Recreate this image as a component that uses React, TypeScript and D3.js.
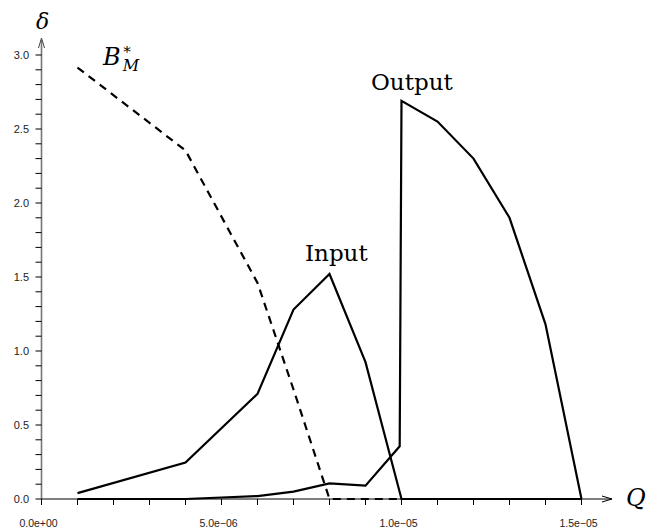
import { useEffect, useRef } from 'react'
import * as d3 from 'd3'

// ─── Data ────────────────────────────────────────────────────────────────────

const inputQ = [1e-6, 4e-6, 6e-6, 7e-6, 8e-6, 9e-6, 1e-5, 1.5e-5]
const inputDelta = [0.04, 0.247, 0.71, 1.28, 1.52, 0.925, 0, 0]

const outputQ = [1e-6, 4e-6, 5e-6, 6e-6, 7e-6, 8e-6, 9e-6, 9.95e-6, 1e-5, 1.1e-5, 1.2e-5, 1.3e-5, 1.4e-5, 1.5e-5]
const outputDelta = [0, 0, 0.01, 0.02, 0.05, 0.105, 0.09, 0.356, 2.69, 2.55, 2.3, 1.9, 1.18, 0]

const bmQ = [1e-6, 4e-6, 6e-6, 7e-6, 8e-6, 1.5e-5]
const bmDelta = [2.915, 2.355, 1.46, 0.74, 0, 0]

const xMajorTicks = [0, 5e-6, 1e-5, 1.5e-5]
const xMajorLabels = ['0.0e+00', '5.0e\u221206', '1.0e\u221205', '1.5e\u221205']
const yMajorTicks = [0, 0.5, 1, 1.5, 2, 2.5, 3]

const W = 646
const H = 529
const serif = "'DejaVu Serif', 'Liberation Serif', serif"
const sans = "'Liberation Sans', Arial, sans-serif"

export default function App() {
  const ref = useRef<SVGSVGElement>(null)

  useEffect(() => {
    document.body.style.margin = '0'
    if (!ref.current) return
    const svg = d3.select(ref.current)
    svg.selectAll('*').remove()

    const x = d3.scaleLinear().domain([0, 1.5e-5]).range([41.5, 581.5])
    const y = d3.scaleLinear().domain([0, 3]).range([499, 55])

    // Y axis (gray line with arrow)
    svg.append('line')
      .attr('x1', x(0)).attr('x2', x(0))
      .attr('y1', y(0)).attr('y2', 40)
      .attr('stroke', '#777').attr('stroke-width', 1.6)
    svg.append('path')
      .attr('d', `M${x(0) - 3},48 L${x(0)},38 L${x(0) + 3},48`)
      .attr('fill', 'none').attr('stroke', '#444').attr('stroke-width', 1)

    // Y ticks every 0.1
    const yMinor = d3.range(0, 31).map((i) => i / 10)
    svg.append('g')
      .selectAll('line')
      .data(yMinor)
      .join('line')
      .attr('x1', x(0) - 6).attr('x2', x(0))
      .attr('y1', (d) => y(d)).attr('y2', (d) => y(d))
      .attr('stroke', '#000').attr('stroke-width', 1)

    svg.append('g')
      .selectAll('text')
      .data(yMajorTicks)
      .join('text')
      .attr('x', 29)
      .attr('y', (d) => y(d) + 4)
      .attr('text-anchor', 'end')
      .attr('font-family', sans)
      .attr('font-size', 11)
      .attr('fill', '#222')
      .text((d) => d.toFixed(1))

    // X axis (arrow)
    svg.append('line')
      .attr('x1', x(0)).attr('x2', 612)
      .attr('y1', y(0)).attr('y2', y(0))
      .attr('stroke', '#000').attr('stroke-width', 1)
    svg.append('path')
      .attr('d', `M602,${y(0) - 3} L612,${y(0)} L602,${y(0) + 3}`)
      .attr('fill', 'none').attr('stroke', '#000').attr('stroke-width', 1)

    const xMinor = d3.range(0, 16).map((i) => i * 1e-6)
    svg.append('g')
      .selectAll('line')
      .data(xMinor)
      .join('line')
      .attr('x1', (d) => x(d)).attr('x2', (d) => x(d))
      .attr('y1', y(0)).attr('y2', y(0) + 6)
      .attr('stroke', '#000').attr('stroke-width', 1)

    svg.append('g')
      .selectAll('text')
      .data(xMajorTicks)
      .join('text')
      .attr('x', (d) => x(d) - 3)
      .attr('y', 527)
      .attr('text-anchor', 'middle')
      .attr('font-family', sans)
      .attr('font-size', 10.5)
      .attr('fill', '#222')
      .text((_, i) => xMajorLabels[i])

    // Curves
    const line = d3.line<[number, number]>()
      .x((d) => x(d[0]))
      .y((d) => y(d[1]))

    const series = [
      { q: outputQ, v: outputDelta, dash: null },
      { q: inputQ, v: inputDelta, dash: null },
      { q: bmQ, v: bmDelta, dash: '8,6' },
    ]
    series.forEach(({ q, v, dash }) => {
      svg.append('path')
        .datum(q.map((qq, i) => [qq, v[i]] as [number, number]))
        .attr('d', line)
        .attr('fill', 'none')
        .attr('stroke', '#000')
        .attr('stroke-width', 2.2)
        .attr('stroke-linejoin', 'miter')
        .attr('stroke-dasharray', dash)
    })

    // Labels
    svg.append('text')
      .attr('x', 36).attr('y', 29)
      .attr('font-family', serif).attr('font-style', 'italic')
      .attr('font-size', 22)
      .text('\u03b4')

    svg.append('text')
      .attr('x', 626).attr('y', 506)
      .attr('font-family', serif).attr('font-style', 'italic')
      .attr('font-size', 24)
      .text('Q')

    const bm = svg.append('text')
      .attr('x', 103).attr('y', 65)
      .attr('font-family', serif).attr('font-style', 'italic')
      .attr('font-size', 24)
    bm.append('tspan').text('B')
    bm.append('tspan').attr('font-size', 15).attr('dx', 1).attr('dy', -11).attr('font-style', 'normal').text('\u2217')
    bm.append('tspan').attr('font-size', 16).attr('dx', -9).attr('dy', 17).text('M')

    svg.append('text')
      .attr('x', 305).attr('y', 261)
      .attr('font-family', serif)
      .attr('font-size', 23)
      .text('Input')

    svg.append('text')
      .attr('x', 371).attr('y', 90)
      .attr('font-family', serif)
      .attr('font-size', 23)
      .text('Output')
  }, [])

  return <svg ref={ref} width={W} height={H} style={{ display: 'block', background: '#fff' }} />
}
